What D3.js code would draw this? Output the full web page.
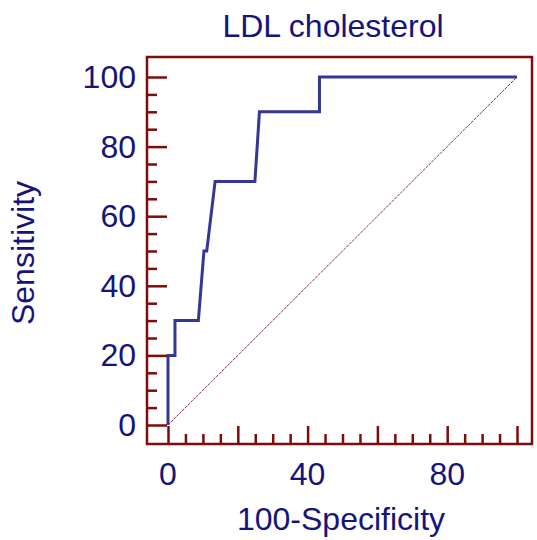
<!DOCTYPE html>
<html>
<head>
<meta charset="utf-8">
<script src="https://cdn.jsdelivr.net/npm/d3@7"></script>
<style>
  body { margin: 0; background: #fff; }
  text { font-family: Arial, "Liberation Sans", sans-serif; fill: #14147a; }
</style>
</head>
<body>
<div id="body"></div>
<script>
// ROC curve points
var fpr = [0, 0, 2, 2, 8.7, 10.3, 11.1, 13.5, 24.9, 26.2, 43.4, 43.4, 100];
var tpr = [0, 20, 20, 30, 30, 50, 50, 70, 70, 90, 90, 100, 100];
var xLabels = [0, 40, 80];
var yLabels = [0, 20, 40, 60, 80, 100];

var W = 537, H = 540;
// frame box
var box = { left: 147, right: 532, top: 57, bottom: 444 };

var x = d3.scaleLinear().domain([0, 100]).range([168, 517]);
var y = d3.scaleLinear().domain([0, 100]).range([425, 77]);

var svg = d3.select('#body')
    .append('svg')
    .attr('width', W)
    .attr('height', H);

var frameColor = '#7d0c0c';

// diagonal reference line
svg.append('line')
    .attr('x1', x(0)).attr('y1', y(0))
    .attr('x2', x(100)).attr('y2', y(100))
    .attr('stroke', '#8a3040')
    .attr('stroke-width', 1)
    .attr('stroke-dasharray', '3,1');

// ROC curve
var pts = fpr.map(function (d, i) { return [d, tpr[i]]; });
svg.append('path')
    .datum(pts)
    .attr('fill', 'none')
    .attr('stroke', '#363696')
    .attr('stroke-width', 3)
    .attr('stroke-linejoin', 'miter')
    .attr('d', d3.line().x(function (d) { return x(d[0]); }).y(function (d) { return y(d[1]); }));

// frame
svg.append('rect')
    .attr('x', box.left).attr('y', box.top)
    .attr('width', box.right - box.left)
    .attr('height', box.bottom - box.top)
    .attr('fill', 'none')
    .attr('stroke', frameColor)
    .attr('stroke-width', 2.5);

// y axis ticks (every 5, major every 20)
var yAxis = d3.axisRight(y)
    .tickValues(d3.range(0, 101, 5))
    .tickSize(0)
    .tickFormat('');
var gy = svg.append('g').attr('transform', 'translate(' + box.left + ',0)').call(yAxis);
gy.select('.domain').remove();
gy.selectAll('.tick line')
    .attr('x2', function (d) { return d % 20 === 0 ? 20 : 10; })
    .attr('stroke', frameColor)
    .attr('stroke-width', 2.5);

// x axis ticks
var xAxis = d3.axisTop(x)
    .tickValues(d3.range(0, 101, 5))
    .tickSize(0)
    .tickFormat('');
var gx = svg.append('g').attr('transform', 'translate(0,' + box.bottom + ')').call(xAxis);
gx.select('.domain').remove();
gx.selectAll('.tick line')
    .attr('y2', function (d) { return d % 20 === 0 ? -18 : -10; })
    .attr('stroke', frameColor)
    .attr('stroke-width', 2.5);

// tick labels
svg.selectAll('.ylab')
    .data(yLabels)
    .enter().append('text')
    .attr('class', 'ylab')
    .attr('x', 136)
    .attr('y', function (d) { return y(d) + 11; })
    .attr('text-anchor', 'end')
    .attr('font-size', 32)
    .text(function (d) { return d; });

svg.selectAll('.xlab')
    .data(xLabels)
    .enter().append('text')
    .attr('class', 'xlab')
    .attr('x', function (d) { return x(d); })
    .attr('y', 485)
    .attr('text-anchor', 'middle')
    .attr('font-size', 32)
    .text(function (d) { return d; });

// titles
svg.append('text')
    .attr('x', 333).attr('y', 37)
    .attr('text-anchor', 'middle')
    .attr('font-size', 32)
    .text('LDL cholesterol');

svg.append('text')
    .attr('x', 341).attr('y', 530)
    .attr('text-anchor', 'middle')
    .attr('font-size', 32)
    .text('100-Specificity');

svg.append('text')
    .attr('transform', 'translate(34,253) rotate(-90)')
    .attr('text-anchor', 'middle')
    .attr('font-size', 32)
    .text('Sensitivity');
</script>
</body>
</html>
